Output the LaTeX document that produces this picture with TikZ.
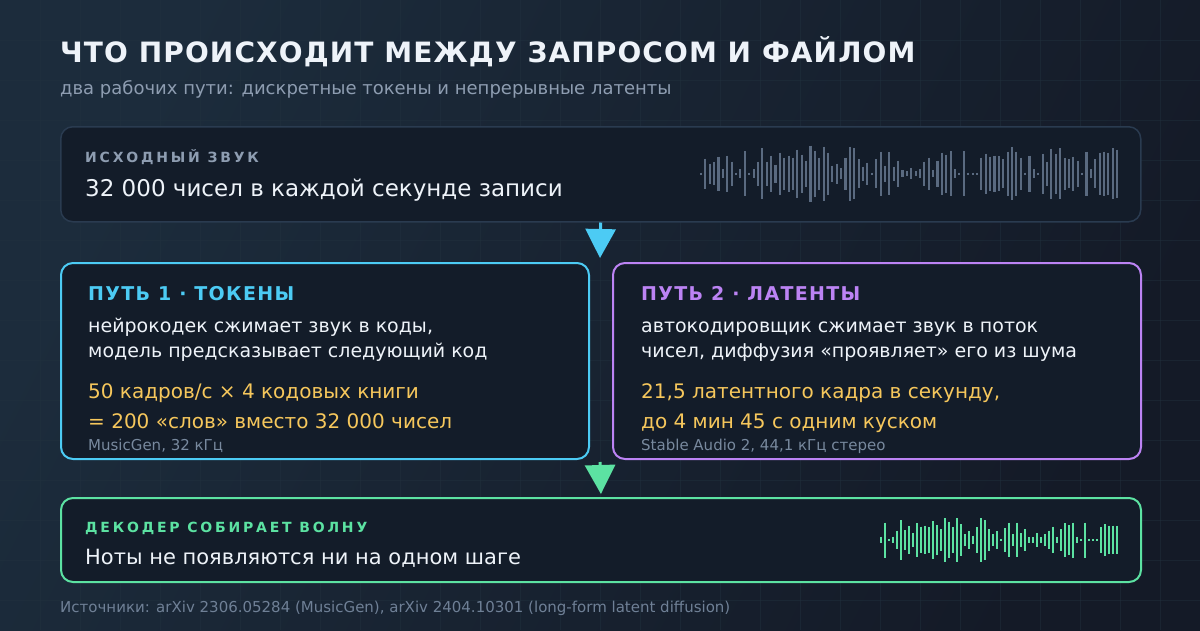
\documentclass[tikz,border=0pt]{standalone}
\usepackage{fontspec}
\setmainfont{DejaVu Sans}
\newfontfamily\titlefont[LetterSpace=4]{DejaVu Sans}
\newfontfamily\capsfont[LetterSpace=20]{DejaVu Sans}
\newfontfamily\pathfont[LetterSpace=7]{DejaVu Sans}
\usetikzlibrary{arrows.meta}
\definecolor{bgA}{HTML}{1C2C3C}
\definecolor{bgB}{HTML}{141A27}
\definecolor{gridc}{HTML}{22323F}
\definecolor{cardfill}{HTML}{131C29}
\definecolor{cardline}{HTML}{2A3B50}
\definecolor{cyanc}{HTML}{4CCBF4}
\definecolor{purplec}{HTML}{BC83F4}
\definecolor{greenc}{HTML}{5CE2A2}
\definecolor{yellowc}{HTML}{F6C75C}
\definecolor{whitec}{HTML}{EEF3F9}
\definecolor{grayc}{HTML}{8E9DB1}
\definecolor{footc}{HTML}{6F8096}
\definecolor{wavec}{HTML}{5A6A80}
\tikzset{
  txt/.style={inner sep=0pt, anchor=base west},
  card/.style={draw, fill=cardfill, rounded corners=12pt, anchor=north west, inner sep=0pt},
  wave/.style={line width=2.1pt, line cap=butt},
  flow/.style={line width=3pt, -{Triangle[width=30pt,length=29pt]}},
}
\begin{document}
\begin{tikzpicture}[x=1pt,y=-1pt]
\useasboundingbox (0,0) rectangle (1200,630);
\shade[left color=bgA, right color=bgB, shading angle=63] (0,0) rectangle (1200,630);
\foreach \gx in {40,80,...,1160} \draw[gridc, line width=0.8pt, opacity=0.45] (\gx,0) -- (\gx,630);
\foreach \gy in {40,80,...,600} \draw[gridc, line width=0.8pt, opacity=0.45] (0,\gy) -- (1200,\gy);

% title
\node[txt, text=whitec, font=\fontsize{28}{34}\selectfont\titlefont\bfseries] (title) at (60,62) {ЧТО ПРОИСХОДИТ МЕЖДУ ЗАПРОСОМ И ФАЙЛОМ};
\node[txt, text=grayc, font=\fontsize{18}{22}\selectfont] (sub) at (60,94) {два рабочих пути: дискретные токены и непрерывные латенты};

% source card
\node[card, draw=cardline, line width=1.5pt, minimum width=1080pt, minimum height=95pt] (src) at (60,126) {};
\node[txt, text=grayc, font=\fontsize{14}{16}\selectfont\capsfont\bfseries] (srcl) at (85,162) {ИСХОДНЫЙ ЗВУК};
\node[txt, text=whitec, font=\fontsize{23}{27}\selectfont] (srct) at (85,196) {32 000 чисел в каждой секунде записи};
\foreach \h [count=\i from 0] in {1.1,15,10,11.7,17,4.5,18,12,1.1,4.5,22.5,1.1,4.5,12,25.5,12,18,9,21,16,18,16,24,19,13,28,23,16,27,21,8,10,5.5,16,27,25.5,14.5,7,11,1.1,14.5,22,8,21.5,7,13,3.5,2.5,5.5,2.5,4.5,12,16,3.5,13,21,19,22.5,4.5,1.1,22.5,1.1,1.1,1.1,16,20,17,18,17.5,14.5,22,26.5,22,16,1.1,18,4.5,1.1,20,12,25,20,25.5,16,14.5,17,13,1.1,22,4.5,14.5,21,22,21,25.5,24}
  \draw[wave, wavec] (701+\i*4.38,173.7-\h) -- (701+\i*4.38,173.7+\h);

% path 1
\node[card, draw=cyanc, line width=2pt, minimum width=528pt, minimum height=196pt] (p1) at (60,262) {};
\node[txt, text=cyanc, font=\fontsize{19}{22}\selectfont\pathfont\bfseries] (p1h) at (88,300) {ПУТЬ 1 · ТОКЕНЫ};
\node[txt, text=whitec, font=\fontsize{19}{25}\selectfont] (p1a) at (88,332) {нейрокодек сжимает звук в коды,};
\node[txt, text=whitec, font=\fontsize{19}{25}\selectfont] (p1b) at (88,357) {модель предсказывает следующий код};
\node[txt, text=yellowc, font=\fontsize{20}{25}\selectfont] (p1c) at (88,398) {50 кадров/с × 4 кодовых книги};
\node[txt, text=yellowc, font=\fontsize{20}{25}\selectfont] (p1d) at (88,428) {= 200 «слов» вместо 32 000 чисел};
\node[txt, text=footc!70!grayc, font=\fontsize{15}{17}\selectfont] (p1e) at (88,450) {MusicGen, 32 кГц};

% path 2
\node[card, draw=purplec, line width=2pt, minimum width=528pt, minimum height=196pt] (p2) at (612,262) {};
\node[txt, text=purplec, font=\fontsize{19}{22}\selectfont\pathfont\bfseries] (p2h) at (641,300) {ПУТЬ 2 · ЛАТЕНТЫ};
\node[txt, text=whitec, font=\fontsize{19}{25}\selectfont] (p2a) at (641,332) {автокодировщик сжимает звук в поток};
\node[txt, text=whitec, font=\fontsize{19}{25}\selectfont] (p2b) at (641,357) {чисел, диффузия «проявляет» его из шума};
\node[txt, text=yellowc, font=\fontsize{20}{25}\selectfont] (p2c) at (641,398) {21,5 латентного кадра в секунду,};
\node[txt, text=yellowc, font=\fontsize{20}{25}\selectfont] (p2d) at (641,428) {до 4 мин 45 с одним куском};
\node[txt, text=footc!70!grayc, font=\fontsize{15}{17}\selectfont] (p2e) at (641,450) {Stable Audio 2, 44,1 кГц стерео};

% decoder
\node[card, draw=greenc, line width=2pt, minimum width=1080pt, minimum height=84pt] (dec) at (60,497) {};
\node[txt, text=greenc, font=\fontsize{14}{16}\selectfont\capsfont\bfseries] (decl) at (85,532) {ДЕКОДЕР СОБИРАЕТ ВОЛНУ};
\node[txt, text=whitec, font=\fontsize{21}{25}\selectfont] (dect) at (85,564) {Ноты не появляются ни на одном шаге};
\foreach \h [count=\i from 0] in {3.3,17.5,1.1,3.3,9.3,20,10,14,6.7,16.7,13.3,14.3,12.7,19,15,10.7,21.7,18.3,12.7,21.7,16,6,9,4.3,12.7,21.7,20,11,6,9,1.1,11.7,17.3,6,17.3,6.7,10.7,2.7,2.7,6.7,2.7,5.7,9.3,13.3,3.3,11,16.7,15,17.5,3.3,1.1,17.5,1.1,1.1,1.1,12.7,16,14.3,14.3,14.3}
  \draw[wave, greenc] (880.7+\i*4.0,540-\h) -- (880.7+\i*4.0,540+\h);

% connectors
\coordinate (split) at (600,258);
\coordinate (merge) at (600,462);
\draw[flow, cyanc] (src.south) -- (split);
\draw[flow, greenc, shorten >=3pt] (merge) -- (dec.north);

% footer
\node[txt, text=footc, font=\fontsize{15}{17}\selectfont] (foot) at (60,612) {Источники: arXiv 2306.05284 (MusicGen), arXiv 2404.10301 (long-form latent diffusion)};
\end{tikzpicture}
\end{document}
